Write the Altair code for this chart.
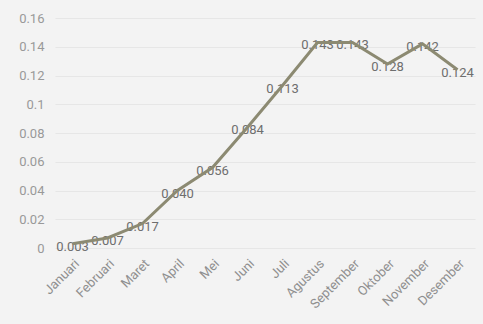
import altair as alt
import pandas as pd

months = ["Januari", "Februari", "Maret", "April", "Mei", "Juni", "Juli",
          "Agustus", "September", "Oktober", "November", "Desember"]
values = [0.003, 0.007, 0.017, 0.040, 0.056, 0.084, 0.113,
          0.143, 0.143, 0.128, 0.142, 0.124]
y_ticks = [0, 0.02, 0.04, 0.06, 0.08, 0.1, 0.12, 0.14, 0.16]

df = pd.DataFrame({"month": months, "value": values})

x = alt.X("month:N", sort=months, title=None,
          scale=alt.Scale(type="point", padding=0.5),
          axis=alt.Axis(labelAngle=-45, domain=False, ticks=False, grid=False,
                        labelColor="#8f8f8f", labelFontSize=13, labelPadding=9,
                        labelFont="Roboto"))
y = alt.Y("value:Q", title=None,
          scale=alt.Scale(domain=[0, 0.16], nice=False),
          axis=alt.Axis(values=y_ticks, format="~g", domain=False, ticks=False,
                        gridColor="#e6e6e6", gridWidth=1.2,
                        labelColor="#999999", labelFontSize=13, labelPadding=11,
                        labelFont="Roboto"))

base = alt.Chart(df)
line = base.mark_line(color="#8c8a72", strokeWidth=3).encode(x=x, y=y)
text = base.mark_text(fontSize=13, color="#6e6e6e", font="Roboto",
                      baseline="middle", dy=3).encode(
    x=x, y=y, text=alt.Text("value:Q", format=".3f"))

chart = (text + line).properties(
    width=420, height=230,
    background="#f3f3f3",
    autosize=alt.AutoSizeParams(type="none"),
    padding={"left": 55, "top": 18, "right": 8, "bottom": 76},
).configure_view(stroke=None)

chart.save("out.html", embed_options={"renderer": "svg", "actions": False})
